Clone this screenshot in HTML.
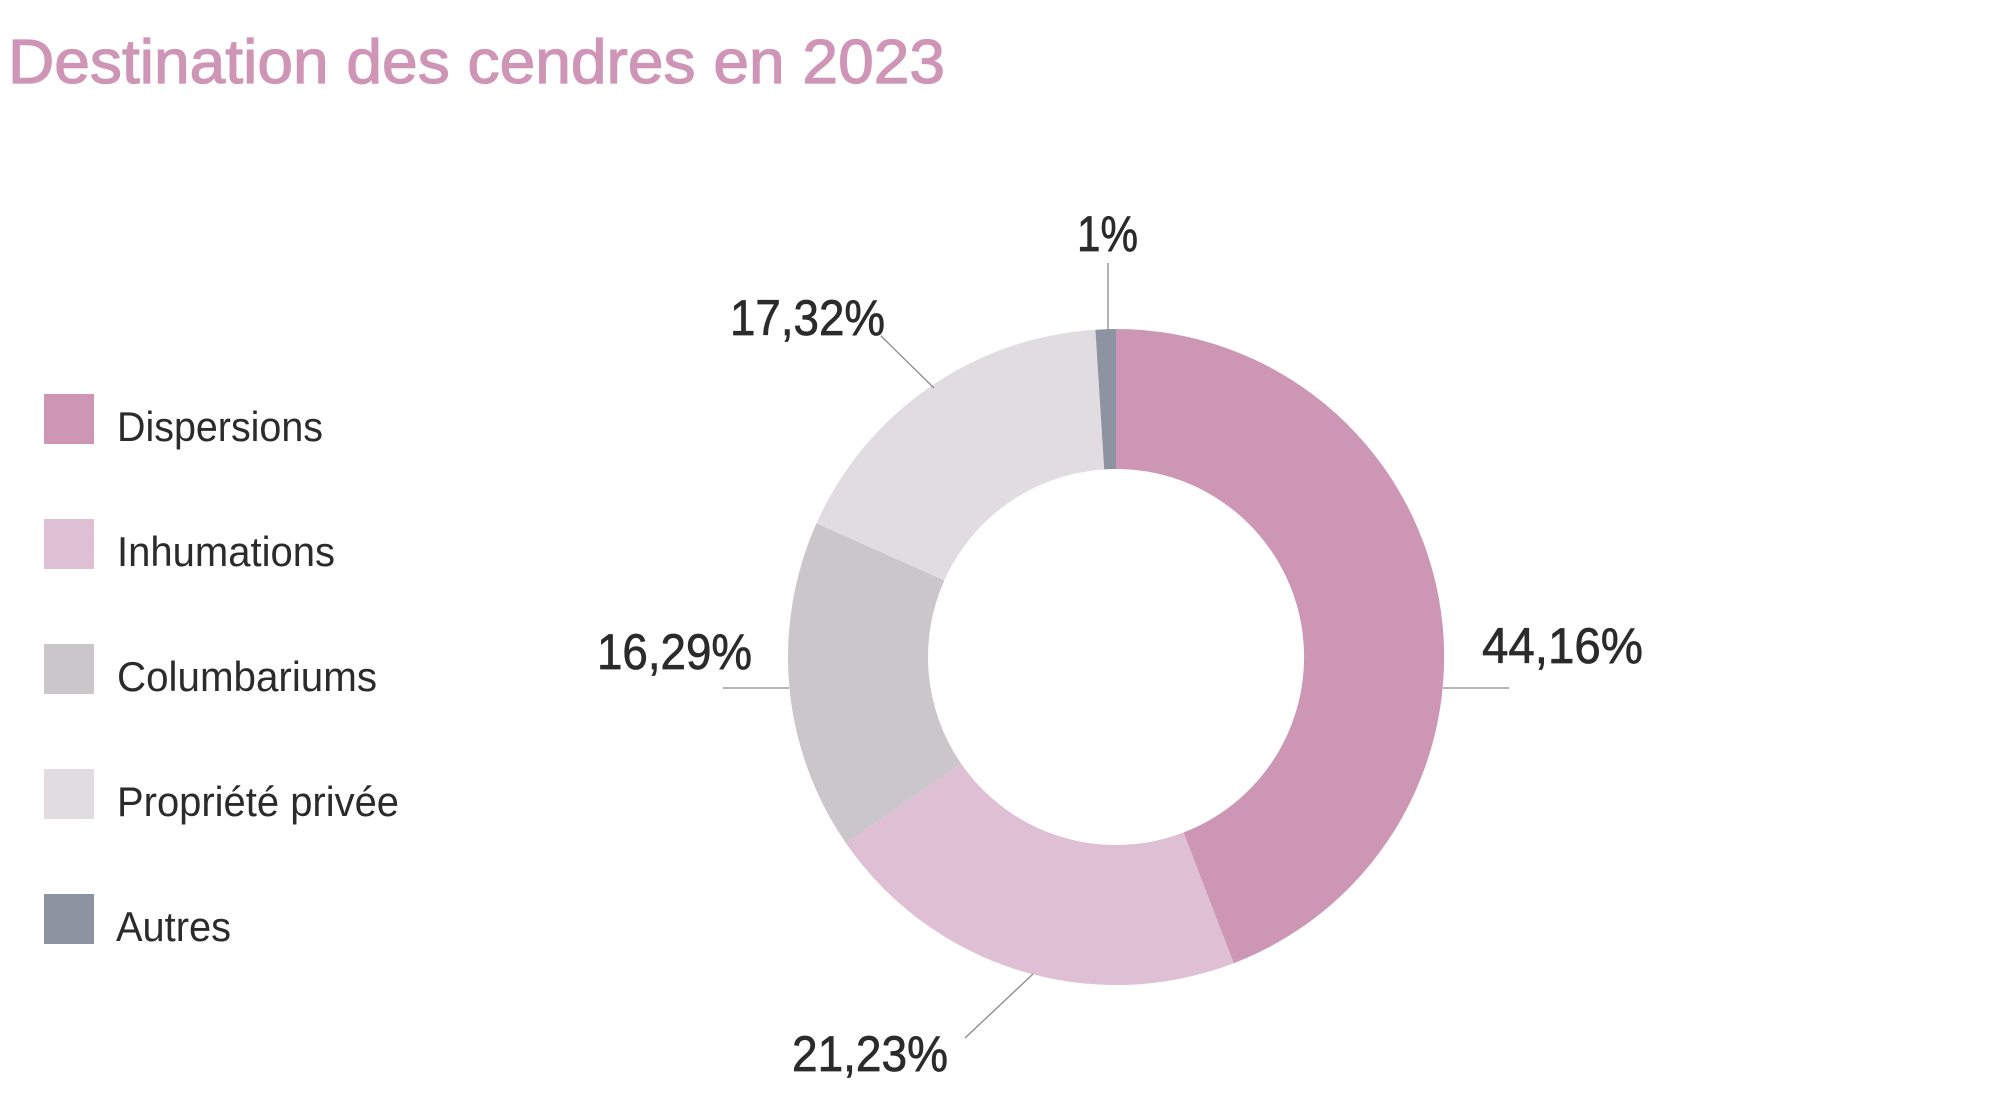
<!DOCTYPE html>
<html>
<head>
<meta charset="utf-8">
<style>
  html,body{margin:0;padding:0;background:#ffffff;}
  body{width:2000px;height:1119px;overflow:hidden;}
  svg{display:block;}
  text{font-family:"Liberation Sans", sans-serif;}
</style>
</head>
<body>
<svg width="2000" height="1119" viewBox="0 0 2000 1119" xmlns="http://www.w3.org/2000/svg">
  <rect x="0" y="0" width="2000" height="1119" fill="#ffffff"/>

  <!-- Title -->
  <text x="8" y="83" font-size="62" fill="#cf95b6" stroke="#cf95b6" stroke-width="1.2" textLength="937" lengthAdjust="spacingAndGlyphs">Destination des cendres en 2023</text>

  <!-- Legend -->
  <rect x="44" y="394" width="50" height="50" fill="#cd96b5"/>
  <text x="117" y="441" font-size="42" fill="#2b2b2b" textLength="206" lengthAdjust="spacingAndGlyphs">Dispersions</text>

  <rect x="44" y="519" width="50" height="50" fill="#dfbfd4"/>
  <text x="117" y="566" font-size="42" fill="#2b2b2b" textLength="218" lengthAdjust="spacingAndGlyphs">Inhumations</text>

  <rect x="44" y="644" width="50" height="50" fill="#cbc6c9"/>
  <text x="117" y="691" font-size="42" fill="#2b2b2b" textLength="260" lengthAdjust="spacingAndGlyphs">Columbariums</text>

  <rect x="44" y="769" width="50" height="50" fill="#e1dce0"/>
  <text x="117" y="816" font-size="42" fill="#2b2b2b" textLength="282" lengthAdjust="spacingAndGlyphs">Propriété privée</text>

  <rect x="44" y="894" width="50" height="50" fill="#8d93a0"/>
  <text x="116" y="941" font-size="42" fill="#2b2b2b" textLength="115" lengthAdjust="spacingAndGlyphs">Autres</text>

  <!-- Donut -->
  <path d="M1116,329 A328,328 0 0 1 1233.7,963.2 L1183.5,832.5 A188,188 0 0 0 1116,469 Z" fill="#cd96b5"/>
  <path d="M1233.7,963.2 A328,328 0 0 1 846,843.2 L961.2,763.7 A188,188 0 0 0 1183.5,832.5 Z" fill="#dfbfd4"/>
  <path d="M846,843.2 A328,328 0 0 1 816.5,523.3 L944.3,580.4 A188,188 0 0 0 961.2,763.7 Z" fill="#cbc6c9"/>
  <path d="M816.5,523.3 A328,328 0 0 1 1095.4,329.7 L1104.2,469.4 A188,188 0 0 0 944.3,580.4 Z" fill="#e1dce0"/>
  <path d="M1095.4,329.7 A328,328 0 0 1 1116,329 L1116,469 A188,188 0 0 0 1104.2,469.4 Z" fill="#8d93a0"/>

  <!-- Leader lines -->
  <g stroke="#8a8a8a" stroke-width="1.3" fill="none">
    <line x1="1108" y1="263" x2="1108" y2="330"/>
    <line x1="881" y1="336" x2="934" y2="388"/>
    <line x1="723" y1="688" x2="789" y2="688"/>
    <line x1="1443" y1="688" x2="1509" y2="688"/>
    <line x1="965" y1="1038" x2="1033" y2="974"/>
  </g>

  <!-- Value labels -->
  <g font-size="50" fill="#2b2b2b" stroke="#2b2b2b" stroke-width="0.7">
    <text x="1077" y="251" textLength="61" lengthAdjust="spacingAndGlyphs">1%</text>
    <text x="730" y="335" textLength="155" lengthAdjust="spacingAndGlyphs">17,32%</text>
    <text x="597" y="669" textLength="155" lengthAdjust="spacingAndGlyphs">16,29%</text>
    <text x="1482" y="663" textLength="161" lengthAdjust="spacingAndGlyphs">44,16%</text>
    <text x="792" y="1071" textLength="156" lengthAdjust="spacingAndGlyphs">21,23%</text>
  </g>
</svg>
</body>
</html>
